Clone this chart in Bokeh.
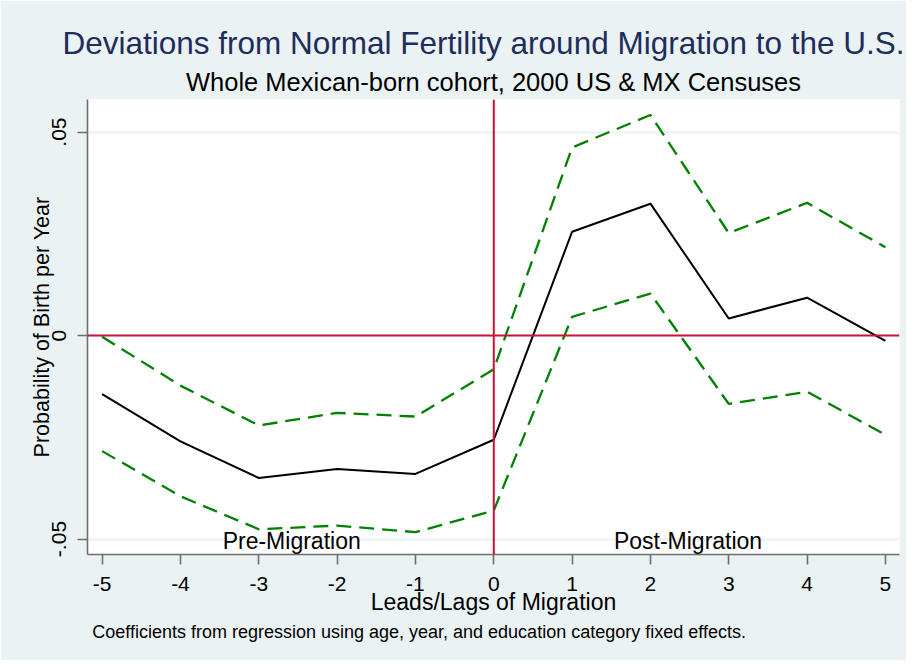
from bokeh.plotting import figure
from bokeh.models import FixedTicker, Title, Label, Span, ColumnDataSource, Range1d
from bokeh.embed import file_html
from bokeh.resources import INLINE

# ---- data ----
lags = [-5, -4, -3, -2, -1, 0, 1, 2, 3, 4, 5]
coef = [-0.0144, -0.0260, -0.0350, -0.0328, -0.0340, -0.0256, 0.0255, 0.0324, 0.0042, 0.0093, -0.0013]
upper = [-0.0003, -0.0123, -0.0221, -0.0190, -0.0199, -0.0083, 0.0462, 0.0542, 0.0252, 0.0326, 0.0217]
lower = [-0.0284, -0.0395, -0.0476, -0.0467, -0.0483, -0.0430, 0.0046, 0.0103, -0.0168, -0.0138, -0.0244]
x_ticks = [-5, -4, -3, -2, -1, 0, 1, 2, 3, 4, 5]
x_tick_labels = ["-5", "-4", "-3", "-2", "-1", "0", "1", "2", "3", "4", "5"]
y_ticks = [-0.05, 0, 0.05]
y_tick_labels = ["-.05", "0", ".05"]

FONT = "Liberation Sans"
BG = "#eaf2f3"
AXIS = "#6e6e6e"
GREEN = "#008000"
RED = "#c8143c"

p = figure(width=906, height=660,
           x_range=Range1d(-5.187, 5.18), y_range=Range1d(-0.0538, 0.058),
           output_backend="svg", toolbar_location=None,
           min_border_left=87, min_border_right=7, min_border_top=99, min_border_bottom=106,
           background_fill_color="white", border_fill_color=BG, outline_line_color=None)

p.title.text = "Deviations from Normal Fertility around Migration to the U.S."
p.title.align = "left"
p.title.offset = -25
p.title.text_font = FONT
p.title.text_font_size = "31.5px"
p.title.text_font_style = "normal"
p.title.text_color = "#1e2d5c"
p.title.standoff = 4

sub = Title(text="Whole Mexican-born cohort, 2000 US & MX Censuses", align="center",
            text_font=FONT, text_font_size="25.5px", text_font_style="normal",
            text_color="black", standoff=7)
p.add_layout(sub, "above")

foot = Title(text="Coefficients from regression using age, year, and education category fixed effects.",
             align="left", offset=4.7, text_font=FONT, text_font_size="18px",
             text_font_style="normal", text_color="black", standoff=4)
p.add_layout(foot, "below")

# grid
p.xgrid.visible = False
p.ygrid.ticker = FixedTicker(ticks=y_ticks)
p.ygrid.grid_line_color = BG
p.ygrid.grid_line_width = 2

# axes
for ax in (p.xaxis[0], p.yaxis[0]):
    ax.axis_line_color = AXIS
    ax.axis_line_width = 1.6
    ax.major_tick_line_color = AXIS
    ax.major_tick_line_width = 1.6
    ax.major_tick_out = 10
    ax.major_tick_in = 0
    ax.minor_tick_line_color = None
    ax.major_label_text_font = FONT
    ax.major_label_text_font_size = "21px"
    ax.major_label_text_color = "black"
    ax.axis_label_text_font = FONT
    ax.axis_label_text_font_style = "normal"
    ax.axis_label_text_color = "black"

p.xaxis.ticker = FixedTicker(ticks=x_ticks)
p.xaxis.major_label_overrides = {t: l for t, l in zip(x_ticks, x_tick_labels)}
p.xaxis.axis_label = "Leads/Lags of Migration"
p.xaxis.axis_label_text_font_size = "23px"
p.xaxis.major_label_standoff = 12
p.xaxis.axis_label_standoff = -5

p.yaxis.ticker = FixedTicker(ticks=y_ticks)
p.yaxis.major_label_overrides = {t: l for t, l in zip(y_ticks, y_tick_labels)}
p.yaxis.major_label_orientation = "vertical"
p.yaxis.axis_label = "Probability of Birth per Year"
p.yaxis.axis_label_text_font_size = "21.5px"
p.yaxis.major_label_standoff = 11
p.yaxis.axis_label_standoff = -4

src = ColumnDataSource(dict(x=lags, coef=coef, upper=upper, lower=lower))
p.line("x", "upper", source=src, line_color=GREEN, line_width=2.3, line_dash="15 8")
p.line("x", "lower", source=src, line_color=GREEN, line_width=2.3, line_dash="15 8")
p.line("x", "coef", source=src, line_color="black", line_width=2)

p.add_layout(Span(location=0, dimension="width", line_color=RED, line_width=2))
p.add_layout(Span(location=0, dimension="height", line_color=RED, line_width=2))

for txt, xx in (("Pre-Migration", -2.58), ("Post-Migration", 2.48)):
    p.add_layout(Label(x=xx, y=-0.0505, text=txt, text_align="center", text_baseline="middle",
                       text_font=FONT, text_font_size="23px", text_color="black"))

open("out.html", "w").write(file_html(p, INLINE))
